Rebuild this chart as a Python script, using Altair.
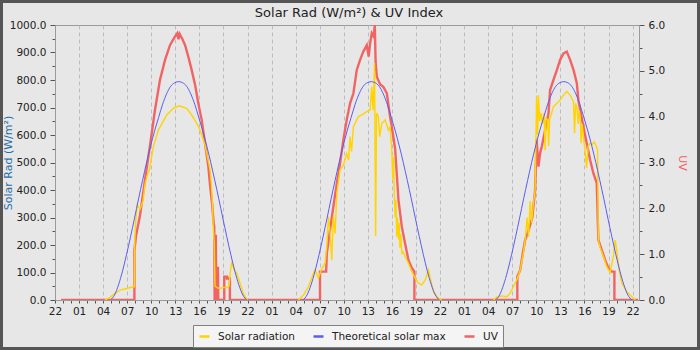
import altair as alt
import pandas as pd

# ---------------------------------------------------------------- data ----
# x runs in hours from 22:00 on the evening before day 1
AXIS_START_HOUR = 22
AXIS_SPAN_HOURS = 72.8
FIRST_SAMPLE = (0, "22:45")
LAST_SAMPLE = (3, "22:42")

series_names = ["Solar radiation", "Theoretical solar max", "UV"]
series_colors = ["#ffd400", "#5c5cf2", "#f26464"]

# clear-sky maximum, same daily profile each day (W/m²)
clear_sky_times = ["04:55", "05:25", "05:55", "06:25", "06:55", "07:25", "07:55",
                   "08:25", "08:55", "09:25", "09:55", "10:25", "10:55", "11:25",
                   "11:55", "12:25", "12:55", "13:25", "13:55", "14:25", "14:55",
                   "15:25", "15:55", "16:25", "16:55", "17:25", "17:55", "18:25",
                   "18:55", "19:25", "19:55", "20:25", "20:55", "21:25", "21:55"]
clear_sky_wm2 = [0, 18, 55, 105, 165, 230, 298, 368, 435, 500, 560, 615, 664, 712,
                 750, 777, 790, 794, 790, 777, 750, 712, 664, 615, 560, 500, 435,
                 368, 298, 230, 165, 105, 55, 18, 0]

# measured solar radiation (W/m²)
solar_d1_times = ["04:14", "04:27", "04:52", "05:29", "06:06", "06:56", "07:46", "07:53",
                  "07:55", "08:00", "08:06", "08:15", "08:36", "08:58", "09:13", "09:28",
                  "09:46", "10:16", "10:53", "11:56", "12:45", "13:28", "14:25", "15:02",
                  "15:40", "16:05", "16:42", "17:20", "17:30", "17:39", "17:45", "17:51",
                  "17:54", "17:57", "18:12", "18:30", "18:48", "19:06", "19:24", "19:42",
                  "19:51", "20:02", "20:12", "20:24", "20:39", "21:04", "21:28", "21:54",
                  "22:00"]
solar_d1_wm2 = [0, 3, 10, 24, 36, 42, 48, 48,
                180, 260, 300, 345, 330, 360, 420, 450,
                473, 558, 618, 673, 697, 706, 697, 673,
                642, 618, 564, 473, 420, 330, 250, 210,
                120, 50, 45, 42, 44, 46, 45, 50,
                100, 139, 122, 108, 97, 62, 24, 2,
                0]

solar_d2_times = ["04:20", "04:58", "05:35", "06:13", "06:25", "06:50", "07:16", "07:40",
                  "07:53", "08:05", "08:17", "08:30", "08:42", "08:55", "09:08", "09:32",
                  "09:57", "10:22", "10:36", "10:47", "10:58", "11:12", "11:49", "12:15",
                  "12:52", "13:17", "13:29", "13:39", "13:50", "13:58", "14:05", "14:19",
                  "14:28", "14:44", "15:09", "15:34", "15:46", "15:59", "16:06", "16:12",
                  "16:18", "16:24", "16:30", "16:36", "16:42", "16:49", "16:54", "17:00",
                  "17:06", "17:14", "17:24", "17:38", "18:04", "18:29", "18:54", "19:19",
                  "19:44", "20:09", "20:34", "20:46", "21:11", "21:48", "22:12"]
solar_d2_wm2 = [0, 18, 48, 97, 109, 79, 115, 134,
                194, 303, 250, 145, 303, 242, 388, 473,
                490, 533, 509, 594, 540, 630, 667, 673,
                685, 691, 776, 690, 861, 233, 680, 667,
                594, 642, 655, 618, 630, 545, 440, 520,
                380, 300, 364, 230, 300, 220, 280, 190,
                240, 170, 175, 158, 133, 103, 79, 61,
                55, 73, 109, 80, 30, 6, 0]

solar_d3_times = ["04:39", "05:04", "05:42", "06:19", "06:44", "07:08", "07:34", "07:59",
                  "08:23", "08:36", "08:51", "09:02", "09:14", "09:25", "09:36", "09:51",
                  "10:02", "10:10", "10:16", "10:25", "10:36", "10:47", "10:58", "11:06",
                  "11:13", "11:25", "11:32", "11:40", "11:51", "12:08", "12:34", "12:58",
                  "13:23", "13:48", "14:13", "14:38", "14:46", "14:54", "15:03", "15:13",
                  "15:20", "15:28", "15:35", "15:43", "15:52", "16:05", "16:16", "16:28",
                  "16:43", "16:58", "17:13", "17:28", "17:38", "17:44", "17:58", "18:22",
                  "18:47", "19:12", "19:37", "19:50", "20:04", "20:19", "20:40", "21:17",
                  "21:55", "22:19"]
solar_d3_wm2 = [0, 10, 15, 12, 24, 48, 73, 109,
                170, 218, 300, 230, 360, 280, 340, 400,
                739, 600, 745, 650, 680, 640, 680, 545,
                660, 655, 560, 660, 673, 703, 715, 727,
                745, 758, 745, 721, 606, 715, 703, 640,
                690, 667, 570, 640, 594, 540, 480, 560,
                570, 565, 575, 560, 545, 218, 190, 158,
                121, 100, 160, 218, 170, 110, 61, 30,
                12, 0]

# measured UV index
uv_d1_times = ["07:54", "07:54", "08:06", "08:36", "09:13", "09:51", "10:28", "11:05",
               "11:43", "12:20", "12:58", "13:15", "13:24", "13:33", "13:50", "14:13",
               "14:37", "15:02", "15:28", "15:52", "16:17", "16:42", "17:07", "17:20",
               "17:35", "17:46", "17:51", "17:54", "17:57", "18:03", "18:06", "18:13",
               "18:13", "18:19", "18:21", "19:06", "19:06", "19:27", "19:27", "19:48",
               "19:48"]
uv_d1_index = [0, 1.09, 1.4, 1.85, 2.62, 3.38, 4.15, 4.8,
               5.24, 5.56, 5.75, 5.82, 5.69, 5.8, 5.71, 5.56,
               5.31, 5.02, 4.69, 4.29, 3.93, 3.42, 2.91, 2.5,
               2.1, 1.7, 1.6, 0, 1.4, 1.4, 0, 0,
               0.7, 0.7, 0, 0, 0.51, 0.51, 0.47, 0.47,
               0]

uv_d2_times = ["07:02", "07:02", "07:48", "07:53", "08:17", "08:42", "09:08", "09:32",
               "09:57", "10:22", "10:47", "11:12", "11:37", "12:02", "12:26", "12:52",
               "13:06", "13:17", "13:29", "13:43", "13:52", "13:58", "14:07", "14:32",
               "14:56", "15:22", "15:46", "15:59", "16:24", "16:49", "17:14", "17:38",
               "18:04", "18:29", "18:48", "18:48"]
uv_d2_index = [0, 0.62, 0.62, 1.02, 1.53, 2.04, 2.55, 2.98,
               3.5, 3.93, 4.29, 4.51, 5.02, 5.24, 5.42, 5.56,
               5.31, 5.6, 5.82, 5.75, 6.0, 5.2, 4.87, 4.7,
               4.65, 4.51, 4.0, 3.78, 3.3, 2.18, 1.6, 1.24,
               0.87, 0.7, 0.62, 0]

uv_d3_times = ["07:38", "07:38", "07:59", "08:19", "08:36", "09:00", "09:30", "09:51",
               "10:02", "10:16", "10:28", "10:41", "11:06", "11:31", "11:43", "12:08",
               "12:34", "12:58", "13:23", "13:48", "14:13", "14:38", "15:03", "15:15",
               "15:28", "15:52", "16:17", "16:43", "17:07", "17:32", "17:44", "18:10",
               "18:35", "19:00", "19:25", "19:44", "19:44"]
uv_d3_index = [0, 0.51, 0.65, 1.02, 1.31, 1.5, 1.8, 2.4,
               3.5, 2.91, 3.2, 3.35, 3.71, 4.07, 4.58, 4.8,
               5.02, 5.24, 5.38, 5.42, 5.24, 5.02, 4.73, 4.35,
               4.15, 3.78, 3.42, 3.05, 2.76, 2.55, 1.31, 1.09,
               0.87, 0.69, 0.62, 0.62, 0]


def hours_since_start(day, hhmm):
    h, m = hhmm.split(":")
    return (day - 1) * 24 + (24 - AXIS_START_HOUR) + int(h) + int(m) / 60


rows = []


def add(series, day, times, values):
    for hhmm, v in zip(times, values):
        rows.append({"series": series, "day": day, "i": len(rows),
                     "t": hours_since_start(day, hhmm), "value": v})


# UV trace runs continuously along zero through the nights
add("UV", 0, [FIRST_SAMPLE[1]], [0])
for d, (tt, vv) in enumerate([(uv_d1_times, uv_d1_index), (uv_d2_times, uv_d2_index),
                              (uv_d3_times, uv_d3_index)], start=1):
    add("UV", d, tt, vv)
add("UV", 3, [LAST_SAMPLE[1]], [0])
for r in rows:
    if r["series"] == "UV":
        r["day"] = 0

for d, (tt, vv) in enumerate([(solar_d1_times, solar_d1_wm2), (solar_d2_times, solar_d2_wm2),
                              (solar_d3_times, solar_d3_wm2)], start=1):
    add("Solar radiation", d, tt, vv)
for d in (1, 2, 3):
    add("Theoretical solar max", d, clear_sky_times, clear_sky_wm2)

df = pd.DataFrame(rows)
uv_df = df[df.series == "UV"]
solar_df = df[df.series == "Solar radiation"]
clear_df = df[df.series == "Theoretical solar max"]

# ---------------------------------------------------------------- styling ----
FONT = "DejaVu Sans"
GRID = "#bcbcbc"

x_enc = alt.X(
    "t:Q",
    scale=alt.Scale(domain=[0, AXIS_SPAN_HOURS], nice=False, zero=False),
    axis=alt.Axis(
        title=None,
        values=list(range(0, 73)),
        labelExpr="datum.value % 3 === 0 ? ((((datum.value + 22) % 24) < 10 ? '0' : '') + ((datum.value + 22) % 24)) : ''",
        tickSize=3,
        labelPadding=3,
        gridOpacity={"condition": {"test": "datum.value % 3 === 0", "value": 1}, "value": 0},
        labelOverlap=False,
        labelFlush=False,
    ),
)

color_enc = alt.Color(
    "series:N",
    scale=alt.Scale(domain=series_names, range=series_colors),
    legend=alt.Legend(
        title=None, orient="none", legendX=138, legendY=300, direction="horizontal",
        fillColor="#f4f4f4", strokeColor="#808080", padding=5,
        symbolType="stroke", symbolSize=100, symbolStrokeWidth=2.5,
        labelFont=FONT, labelFontSize=10.5, labelColor="#222222",
        columnPadding=13, labelOffset=7,
    ),
)

left_y = alt.Y(
    "value:Q",
    scale=alt.Scale(domain=[0, 1000], nice=False),
    axis=alt.Axis(
        title="Solar Rad (W/m²)", titleColor="#1f6fa8", titleFontSize=11,
        titleFontWeight="normal", titleFont=FONT,
        titleX=-47, titleY=137.5, titleAngle=-90, titleBaseline="middle",
        values=list(range(0, 1001, 50)),
        labelExpr="datum.value % 100 === 0 ? format(datum.value, '.1f') : ''",
        tickSize={"condition": {"test": "datum.value % 100 === 0", "value": 5}, "value": 3},
        gridOpacity={"condition": {"test": "datum.value % 100 === 0", "value": 1}, "value": 0},
        labelPadding=4,
    ),
)

right_y = alt.Y(
    "value:Q",
    scale=alt.Scale(domain=[0, 6], nice=False),
    axis=alt.Axis(
        orient="right", grid=False,
        title="UV", titleColor="#f26464", titleFontSize=11,
        titleFontWeight="normal", titleFont=FONT,
        titleX=42, titleY=137.5, titleBaseline="middle",
        values=[k / 2 for k in range(0, 13)],
        labelExpr="datum.value % 1 === 0 ? format(datum.value, '.1f') : ''",
        tickSize={"condition": {"test": "datum.value % 1 === 0", "value": 5}, "value": 3},
        labelPadding=4,
    ),
)

uv_layer = alt.Chart(uv_df).mark_line(strokeWidth=2.4, clip=True).encode(
    x=x_enc, y=right_y, color=color_enc, order="i:Q"
)
solar_layer = alt.Chart(solar_df).mark_line(strokeWidth=1.4, clip=True).encode(
    x=x_enc, y=left_y, color=color_enc, detail="day:N", order="i:Q"
)
clear_layer = alt.Chart(clear_df).mark_line(strokeWidth=1, interpolate="monotone", clip=True).encode(
    x=x_enc, y=left_y, color=color_enc, detail="day:N", order="i:Q"
)

# dark outer border around the whole figure
frame = alt.Chart(pd.DataFrame({"k": [0]})).mark_rect(
    fillOpacity=0, stroke="#555555", strokeWidth=3
).encode(
    x=alt.value(-53.5), x2=alt.value(643.5), y=alt.value(-23.5), y2=alt.value(323.5)
)

chart = (
    alt.layer(uv_layer, alt.layer(solar_layer, clear_layer), frame)
    .resolve_scale(y="independent")
    .properties(
        width=584, height=275,
        autosize=alt.AutoSizeParams(type="none"),
        padding={"left": 55, "top": 25, "right": 61, "bottom": 50},
        background="#e7e7e7",
        title=alt.TitleParams(
            "Solar Rad (W/m²) &  UV Index", font=FONT, fontSize=13,
            fontWeight="normal", color="#222222", anchor="middle", offset=8,
            dx=2, dy=28,
        ),
    )
    .configure_view(stroke="#9a9a9a", strokeWidth=1)
    .configure_axis(
        labelFont=FONT, labelFontSize=10.5, labelColor="#222222",
        domainColor="#9a9a9a", tickColor="#555555",
        gridColor=GRID, gridDash=[4, 3], gridWidth=1,
    )
)

chart.save("out.html", embed_options={"renderer": "svg", "actions": False})
